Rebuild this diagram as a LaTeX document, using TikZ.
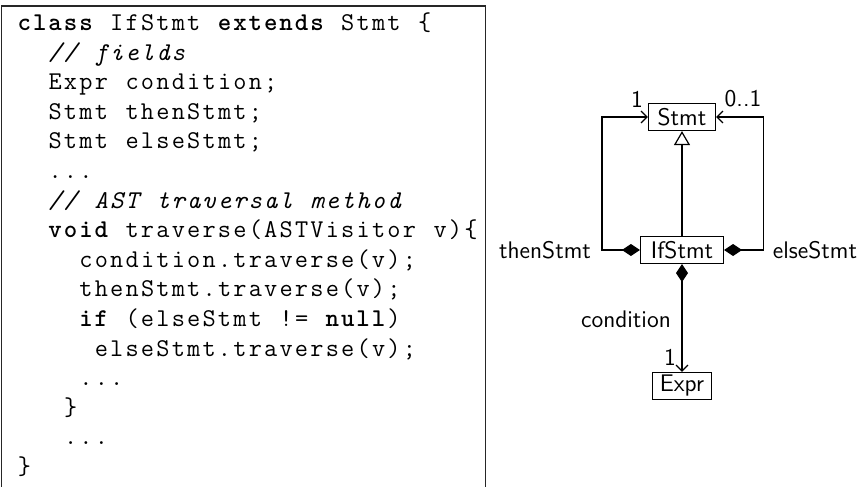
\documentclass[tikz,border=0pt]{standalone}
\usetikzlibrary{arrows.meta}

% Fixed-pitch code setting: every character sits in a box of the same width
\ExplSyntaxOn
\dim_new:N \g_codepitch_dim
\dim_gset:Nn \g_codepitch_dim {7.7pt}
\NewDocumentCommand \ct { m }
  { \str_map_inline:nn {#1} { \hbox_to_wd:nn { \g_codepitch_dim } { \hss ##1 \hss } } }
\NewDocumentCommand \ctb { m } { { \bfseries \ct {#1} } }
\NewDocumentCommand \cti { m } { { \itshape \ct {#1} } }
\NewDocumentCommand \clb { } { \hbox_to_wd:nn { \g_codepitch_dim } { \hss \{ \hss } }
\NewDocumentCommand \crb { } { \hbox_to_wd:nn { \g_codepitch_dim } { \hss \} \hss } }
\ExplSyntaxOff

\tikzset{
  codeline/.style={anchor=base west, inner sep=0pt, font=\fontsize{12.8}{15}\selectfont\ttfamily},
  cls/.style={draw, line width=0.6pt, inner sep=0pt, minimum height=13.5pt,
              font=\sffamily\fontsize{12}{14}\selectfont},
  lbl/.style={inner sep=0pt, font=\sffamily\fontsize{12}{14}\selectfont},
  conn/.style={line width=0.6pt},
  comp/.style={conn, {Diamond[length=9pt,width=6pt]}-{Straight Barb[length=3pt,width=6pt]}},
  inherit/.style={conn, -{Triangle[open,length=7pt,width=8pt]}},
}

\begin{document}
\begin{tikzpicture}[x=0.5pt, y=-0.5pt]
  \useasboundingbox (0,0) rectangle (859,487);

  % frame of the listing, open at the bottom
  \draw[line width=0.6pt, black!85] (1.5,487) -- (1.5,6) -- (485.5,6) -- (485.5,487);

  % listing lines: baseline 30.5 + 29.6*i, column pitch 15.4
  \node[codeline] (c0)  at (16.3, 30.5)  {\ctb{class}\ct{ IfStmt }\ctb{extends}\ct{ Stmt }\clb};
  \node[codeline] (c1)  at (47.1, 60.1)  {\cti{// fields}};
  \node[codeline] (c2)  at (47.1, 89.7)  {\ct{Expr condition;}};
  \node[codeline] (c3)  at (47.1, 119.3) {\ct{Stmt thenStmt;}};
  \node[codeline] (c4)  at (47.1, 148.9) {\ct{Stmt elseStmt;}};
  \node[codeline] (c5)  at (47.1, 178.5) {\ct{...}};
  \node[codeline] (c6)  at (47.1, 208.1) {\cti{// AST traversal method}};
  \node[codeline] (c7)  at (47.1, 237.7) {\ctb{void}\ct{ traverse(ASTVisitor v)}\clb};
  \node[codeline] (c8)  at (77.9, 267.3) {\ct{condition.traverse(v);}};
  \node[codeline] (c9)  at (77.9, 296.9) {\ct{thenStmt.traverse(v);}};
  \node[codeline] (c10) at (77.9, 326.5) {\ctb{if}\ct{ (elseStmt != }\ctb{null}\ct{)}};
  \node[codeline] (c11) at (93.3, 356.1) {\ct{elseStmt.traverse(v);}};
  \node[codeline] (c12) at (77.9, 385.7) {\ct{...}};
  \node[codeline] (c13) at (62.5, 415.3) {\crb};
  \node[codeline] (c14) at (62.5, 444.9) {\ct{...}};
  \node[codeline] (c15) at (16.3, 474.5) {\crb};

  % class diagram
  \node[cls, minimum width=33.5pt] (stmt) at (682,117) {Stmt};
  \node[cls, minimum width=41.5pt] (ifs)  at (682,250) {IfStmt};
  \node[cls, minimum width=29.5pt] (expr) at (682,386) {Expr};

  \draw[inherit] (ifs.north) -- (stmt.south);
  \draw[comp] (ifs.west) -- ++(-38,0) |- (stmt.west);
  \draw[comp] (ifs.east) -- ++(39,0) |- (stmt.east);
  \draw[comp] (ifs.south) -- (expr.north);

  \node[lbl] (m1)   at (637,99)  {1};
  \node[lbl] (m01)  at (743,99)  {0..1};
  \node[lbl] (then) at (545,250) {thenStmt};
  \node[lbl] (else) at (815,250) {elseStmt};
  \node[lbl] (cond) at (626,319) {condition};
  \node[lbl] (m1b)  at (670,357) {1};
\end{tikzpicture}
\end{document}
